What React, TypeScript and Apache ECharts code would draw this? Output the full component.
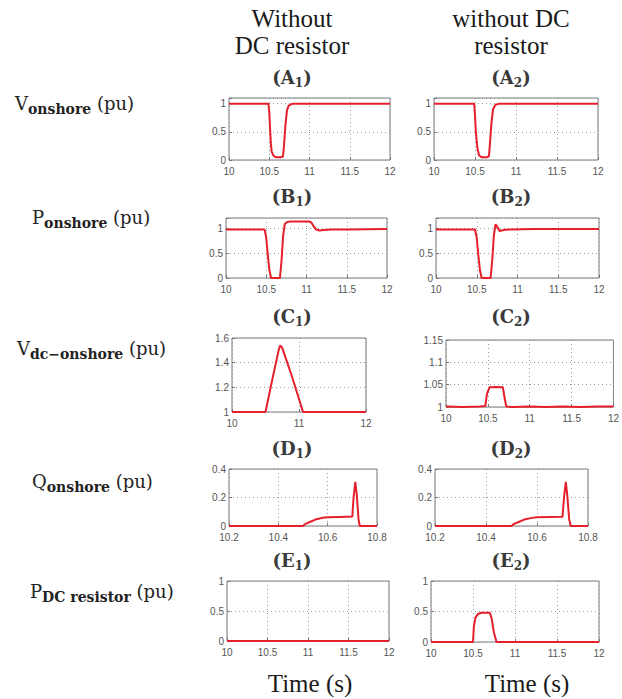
import React, { useEffect, useRef } from "react";
import * as echarts from "echarts";

// ---- Data ----
// (A) V onshore (pu)
const tA1 = [10, 10.49, 10.5, 10.51, 10.52, 10.53, 10.55, 10.58, 10.64, 10.67, 10.68, 10.7, 10.72, 10.74, 10.77, 10.8, 12];
const vA1 = [1, 1, 0.85, 0.55, 0.3, 0.15, 0.08, 0.05, 0.05, 0.06, 0.2, 0.6, 0.88, 0.96, 0.99, 1, 1];
const tA2 = [10, 10.49, 10.5, 10.51, 10.53, 10.55, 10.58, 10.65, 10.67, 10.68, 10.7, 10.72, 10.75, 10.8, 12];
const vA2 = [1, 1, 0.8, 0.5, 0.2, 0.08, 0.05, 0.05, 0.07, 0.25, 0.65, 0.9, 0.98, 1, 1];
// (B) P onshore (pu)
const tB1 = [10, 10.48, 10.5, 10.52, 10.54, 10.56, 10.67, 10.69, 10.71, 10.73, 10.76, 10.8, 11.03, 11.06, 11.09, 11.12, 11.16, 11.22, 11.3, 11.5, 12];
const vB1 = [0.97, 0.97, 0.8, 0.45, 0.15, 0, 0, 0.35, 0.85, 1.08, 1.12, 1.13, 1.13, 1.11, 1.03, 0.97, 0.95, 0.96, 0.97, 0.97, 0.98];
const tB2 = [10, 10.48, 10.5, 10.52, 10.54, 10.56, 10.67, 10.69, 10.71, 10.73, 10.75, 10.78, 10.83, 10.9, 11.2, 12];
const vB2 = [0.97, 0.97, 0.8, 0.45, 0.15, 0, 0, 0.35, 0.85, 1.07, 1.03, 0.94, 0.96, 0.97, 0.98, 0.98];
// (C) Vdc onshore (pu)
const tC1 = [10, 10.5, 10.6, 10.7, 10.72, 10.75, 10.9, 11.06, 12];
const vC1 = [1, 1, 1.26, 1.51, 1.54, 1.52, 1.28, 1.0, 1];
const tC2 = [10, 10.2, 10.4, 10.47, 10.49, 10.52, 10.6, 10.68, 10.7, 10.72, 10.8, 11, 11.2, 11.4, 11.6, 11.8, 12];
const vC2 = [1.001, 1.0, 1.001, 1.002, 1.03, 1.044, 1.045, 1.044, 1.02, 1.001, 1.0, 1.001, 1.0, 1.001, 1.0, 1.001, 1.001];
// (D) Q onshore (pu)
const tD1 = [10.2, 10.5, 10.51, 10.53, 10.55, 10.58, 10.6, 10.65, 10.7, 10.705, 10.712, 10.718, 10.725, 10.73, 10.8];
const vD1 = [0, 0, 0.015, 0.03, 0.045, 0.058, 0.062, 0.064, 0.066, 0.2, 0.31, 0.22, 0.05, 0, 0];
const tD2 = [10.2, 10.5, 10.51, 10.53, 10.55, 10.58, 10.6, 10.65, 10.7, 10.706, 10.713, 10.719, 10.726, 10.732, 10.8];
const vD2 = [0, 0, 0.015, 0.03, 0.045, 0.057, 0.061, 0.063, 0.065, 0.2, 0.31, 0.21, 0.05, 0, 0];
// (E) P DC resistor (pu)
const tE1 = [10, 11, 12];
const vE1 = [0, 0, 0];
const tE2 = [10, 10.5, 10.51, 10.53, 10.56, 10.6, 10.7, 10.72, 10.75, 10.78, 12];
const vE2 = [0, 0, 0.25, 0.4, 0.46, 0.48, 0.48, 0.4, 0.15, 0, 0];

const colHeaders = [["Without", "DC resistor"], ["without DC", "resistor"]];
const panelLetters = ["A", "B", "C", "D", "E"];
const rowLabels = [
  ["V", "onshore"],
  ["P", "onshore"],
  ["V", "dc\u2212onshore"],
  ["Q", "onshore"],
  ["P", "DC resistor"],
];
const xTitle = "Time (s)";

const zip = (t: number[], v: number[]) => t.map((x, i) => [x, v[i]]);

const fmt = (step: number) => (v: number) => {
  const k = v / step;
  return Math.abs(k - Math.round(k)) < 1e-6 ? String(Math.round(v * 1000) / 1000) : "";
};

export default function App() {
  const ref = useRef<HTMLDivElement>(null);
  useEffect(() => {
    if (!ref.current) return;
    const chart = echarts.init(ref.current, undefined, { renderer: "svg" });

    const panels = [
      { g: [229, 98, 161, 62], x: [10, 12, 0.5], y: [0, 1.1, 0.5], d: zip(tA1, vA1) },
      { g: [434, 98, 164, 62], x: [10, 12, 0.5], y: [0, 1.1, 0.5], d: zip(tA2, vA2) },
      { g: [226, 218, 161, 60], x: [10, 12, 0.5], y: [0, 1.2, 0.5], d: zip(tB1, vB1) },
      { g: [436, 218, 163, 60], x: [10, 12, 0.5], y: [0, 1.2, 0.5], d: zip(tB2, vB2) },
      { g: [232, 338, 134, 74], x: [10, 12, 1], y: [1, 1.6, 0.2], d: zip(tC1, vC1) },
      { g: [446, 340, 173, 67], x: [10, 12, 0.5], y: [1, 1.15, 0.05], d: zip(tC2, vC2) },
      { g: [229, 469, 148, 57], x: [10.2, 10.8, 0.2], y: [0, 0.4, 0.2], d: zip(tD1, vD1) },
      { g: [435, 469, 153, 57], x: [10.2, 10.8, 0.2], y: [0, 0.4, 0.2], d: zip(tD2, vD2) },
      { g: [227, 581, 162, 60], x: [10, 12, 0.5], y: [0, 1, 0.5], d: zip(tE1, vE1) },
      { g: [431, 581, 168, 61], x: [10, 12, 0.5], y: [0, 1, 0.5], d: zip(tE2, vE2) },
    ];

    const grid = panels.map((p) => ({
      left: p.g[0], top: p.g[1], width: p.g[2], height: p.g[3],
      show: true, borderColor: "#7a7a7a", borderWidth: 1, backgroundColor: "#fff",
    }));
    const splitLine = { show: true, lineStyle: { color: "#9a9a9a", type: [1, 3] as any, width: 1 } };
    const labelStyle = { fontSize: 10, color: "#555", fontFamily: "Liberation Sans" };
    const xAxis = panels.map((p, i) => ({
      type: "value", gridIndex: i, min: p.x[0], max: p.x[1], interval: p.x[2],
      axisLine: { show: false },
      axisTick: { show: true, inside: true, length: 3, lineStyle: { color: "#777" } },
      splitLine,
      axisLabel: { ...labelStyle, margin: 6, formatter: fmt(p.x[2]) },
    }));
    const yAxis = panels.map((p, i) => ({
      type: "value", gridIndex: i, min: p.y[0], max: p.y[1], interval: p.y[2],
      axisLine: { show: false },
      axisTick: { show: true, inside: true, length: 3, lineStyle: { color: "#777" } },
      splitLine,
      axisLabel: { ...labelStyle, margin: 3, formatter: fmt(p.y[2]) },
    }));
    const series = panels.map((p, i) => ({
      type: "line", xAxisIndex: i, yAxisIndex: i, data: p.d,
      showSymbol: false, symbol: "none", smooth: false,
      lineStyle: { color: "#e5202a", width: 2 },
    }));

    const serif = "Liberation Serif";
    const dserif = "DejaVu Serif";
    const graphic: any[] = [];
    const colX = [292, 511];
    const timeX = [310, 527];
    colHeaders.forEach((lines, c) => {
      lines.forEach((s, k) => {
        graphic.push({
          type: "text", x: colX[c], y: 18 + k * 27,
          style: { text: s, fill: "#1a1a1a", font: `25px '${serif}'`, align: "center", verticalAlign: "middle", textAlign: "center", textVerticalAlign: "middle" },
        });
      });
      graphic.push({
        type: "text", x: timeX[c], y: 683,
        style: { text: xTitle, fill: "#1a1a1a", font: `25px '${serif}'`, align: "center", verticalAlign: "middle", textAlign: "center", textVerticalAlign: "middle" },
      });
    });
    const letterY = [78, 197, 317, 449, 561];
    panelLetters.forEach((L, r) => {
      [0, 1].forEach((c) => {
        graphic.push({
          type: "text", x: colX[c], y: letterY[r],
          style: {
            text: `{m|(${L}}{s|${c + 1}}{m|)}`,
            align: "center", verticalAlign: "middle", textAlign: "center", textVerticalAlign: "middle",
            rich: {
              m: { fontSize: 18, fontFamily: dserif, fontWeight: "bold", fill: "#3a3a3a", color: "#3a3a3a", lineHeight: 20, verticalAlign: "top" },
              s: { fontSize: 12, fontFamily: dserif, fontWeight: "bold", fill: "#3a3a3a", color: "#3a3a3a", lineHeight: 13, padding: [9, 0, 0, 0], verticalAlign: "top" },
            },
          },
        });
      });
    });
    const rowX = [15, 32, 17, 32, 30];
    const rowY = [104, 218, 349, 482, 592];
    rowLabels.forEach((lab, r) => {
      graphic.push({
        type: "text", x: rowX[r], y: rowY[r],
        style: {
          text: `{m|${lab[0]}}{s|${lab[1]}}{m| (pu)}`,
          align: "left", verticalAlign: "middle", textAlign: "left", textVerticalAlign: "middle",
          rich: {
            m: { fontSize: 18, fontFamily: dserif, fill: "#222", color: "#222", lineHeight: 20, verticalAlign: "top" },
            s: { fontSize: 14, fontFamily: dserif, fontWeight: "bold", fill: "#222", color: "#222", lineHeight: 16, padding: [8, 0, 0, 0], verticalAlign: "top" },
          },
        },
      });
    });

    chart.setOption({
      animation: false,
      backgroundColor: "#fff",
      grid, xAxis, yAxis, series, graphic,
    } as any);
    return () => chart.dispose();
  }, []);
  return <div ref={ref} style={{ position: "fixed", left: 0, top: 0, width: 622, height: 699, background: "#fff" }} />;
}
